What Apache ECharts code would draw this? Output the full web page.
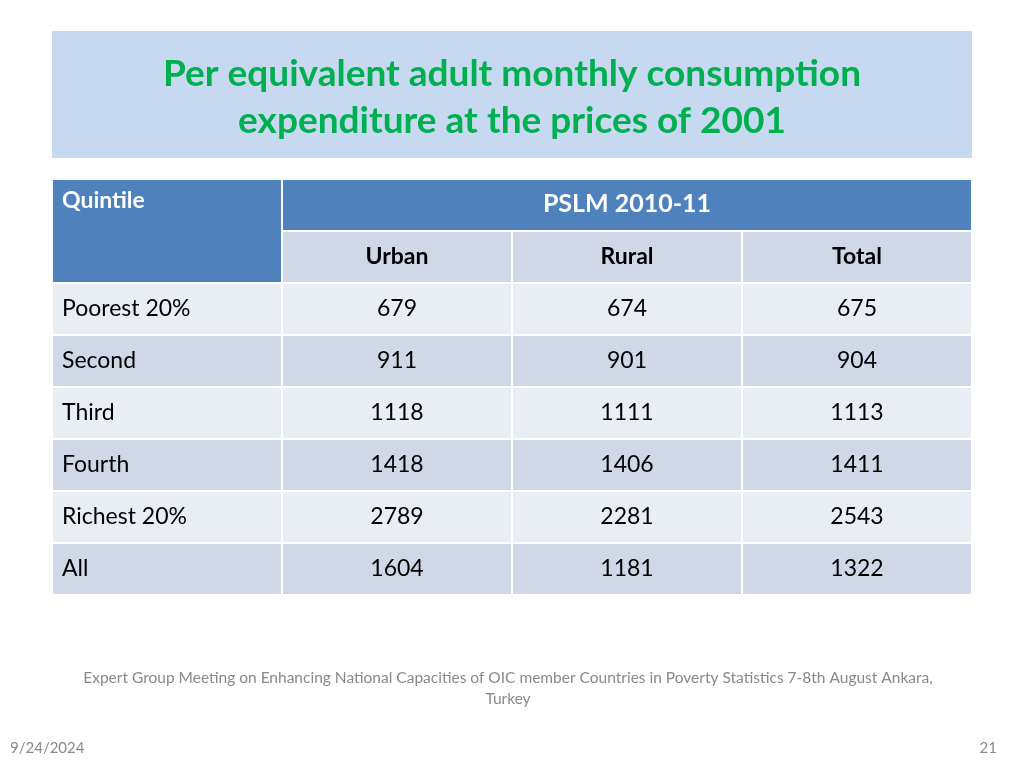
<!DOCTYPE html>
<html><head><meta charset="utf-8">
<script src="https://cdn.jsdelivr.net/npm/echarts@6/dist/echarts.min.js"></script>
<style>html,body{margin:0;padding:0;background:#fff}#c{width:1024px;height:768px}</style>
</head><body><div id="c"></div>
<script>
// ---- data ----
var titleLines = ['Per equivalent adult monthly consumption', 'expenditure at the prices of 2001'];
var firstHeader = 'Quintile';
var surveyHeader = 'PSLM 2010-11';
var columns = ['Urban', 'Rural', 'Total'];
var quintiles = ['Poorest 20%', 'Second', 'Third', 'Fourth', 'Richest 20%', 'All'];
var urban = [679, 911, 1118, 1418, 2789, 1604];
var rural = [674, 901, 1111, 1406, 2281, 1181];
var total = [675, 904, 1113, 1411, 2543, 1322];
var footerLines = ['Expert Group Meeting on Enhancing National Capacities of OIC member Countries in Poverty Statistics 7-8th August Ankara,', 'Turkey'];
var dateText = '9/24/2024';
var pageText = '21';

// ---- build table cells: [col, row, colSpan, rowSpan, text, kind] ----
var cells = [];
cells.push([0, 0, 1, 2, firstHeader, 'hdrLeft']);
cells.push([1, 0, 3, 1, surveyHeader, 'hdr']);
columns.forEach(function (c, i) { cells.push([i + 1, 1, 1, 1, c, 'sub']); });
var series3 = [urban, rural, total];
quintiles.forEach(function (q, r) {
  var kind = r % 2 === 0 ? 'light' : 'dark';
  cells.push([0, r + 2, 1, 1, q, kind + 'Label']);
  series3.forEach(function (arr, i) { cells.push([i + 1, r + 2, 1, 1, String(arr[r]), kind]); });
});

var FONT = 'Lato, "Noto Sans", sans-serif';
var chart = echarts.init(document.getElementById('c'), null, {renderer: 'canvas'});

function renderItem(params, api) {
  var col = api.value(0), row = api.value(1), cs = api.value(2), rs = api.value(3);
  var d = cells[params.dataIndex];
  var text = d[4], kind = d[5];
  var size = api.size([1, 1]);
  var c0 = api.coord([col, row]);
  var x = c0[0] - size[0] / 2, y = c0[1] - size[1] / 2;
  var w = size[0] * cs, h = size[1] * rs;
  var fill = '#E9EDF4';
  if (kind === 'hdr' || kind === 'hdrLeft') fill = '#4F81BD';
  else if (kind === 'sub' || kind.indexOf('dark') === 0) fill = '#D0D8E8';
  var children = [{
    type: 'rect',
    shape: {x: x, y: y, width: w, height: h},
    style: {fill: fill, stroke: '#ffffff', lineWidth: 2}
  }];
  var ts = {text: text, fill: '#000', font: '23px ' + FONT, align: 'center', verticalAlign: 'middle', x: x + w / 2, y: y + h / 2};
  if (kind === 'hdrLeft') {
    ts.fill = '#fff'; ts.font = 'bold 23px ' + FONT; ts.align = 'left'; ts.verticalAlign = 'top';
    ts.x = x + 10; ts.y = y + 10;
  } else if (kind === 'hdr') {
    ts.fill = '#fff'; ts.font = 'bold 25px ' + FONT; ts.y = y + h / 2 - 1;
  } else if (kind === 'sub') {
    ts.font = 'bold 23px ' + FONT;
  } else if (kind.indexOf('Label') > 0) {
    ts.align = 'left'; ts.x = x + 10;
  }
  children.push({type: 'text', style: ts});
  return {type: 'group', children: children};
}

var gray = '#898989';
chart.setOption({
  animation: false,
  backgroundColor: '#ffffff',
  grid: {left: 52, top: 179, width: 920, height: 416},
  xAxis: {type: 'category', data: ['q', 'u', 'r', 't'], show: false},
  yAxis: {type: 'category', data: ['h1', 'h2', 'r1', 'r2', 'r3', 'r4', 'r5', 'r6'], inverse: true, show: false},
  graphic: [
    {type: 'rect', x: 52, y: 31, shape: {width: 920, height: 127}, style: {fill: '#C6D9F1'}, z: 0},
    {type: 'text', x: 512, y: 74, style: {text: titleLines[0], fill: '#00B050', font: 'bold 37px ' + FONT, align: 'center', verticalAlign: 'middle'}},
    {type: 'text', x: 512, y: 121, style: {text: titleLines[1], fill: '#00B050', font: 'bold 37px ' + FONT, align: 'center', verticalAlign: 'middle'}},
    {type: 'text', x: 508, y: 678, style: {text: footerLines[0], fill: gray, font: '15.5px ' + FONT, align: 'center', verticalAlign: 'middle'}},
    {type: 'text', x: 508, y: 699, style: {text: footerLines[1], fill: gray, font: '15.5px ' + FONT, align: 'center', verticalAlign: 'middle'}},
    {type: 'text', x: 10, y: 748, style: {text: dateText, fill: gray, font: '15px ' + FONT, align: 'left', verticalAlign: 'middle'}},
    {type: 'text', x: 997, y: 748, style: {text: pageText, fill: gray, font: '15px ' + FONT, align: 'right', verticalAlign: 'middle'}}
  ],
  series: [{
    type: 'custom',
    renderItem: renderItem,
    encode: {x: 0, y: 1},
    data: cells.map(function (c) { return [c[0], c[1], c[2], c[3]]; })
  }]
});
</script></body></html>
